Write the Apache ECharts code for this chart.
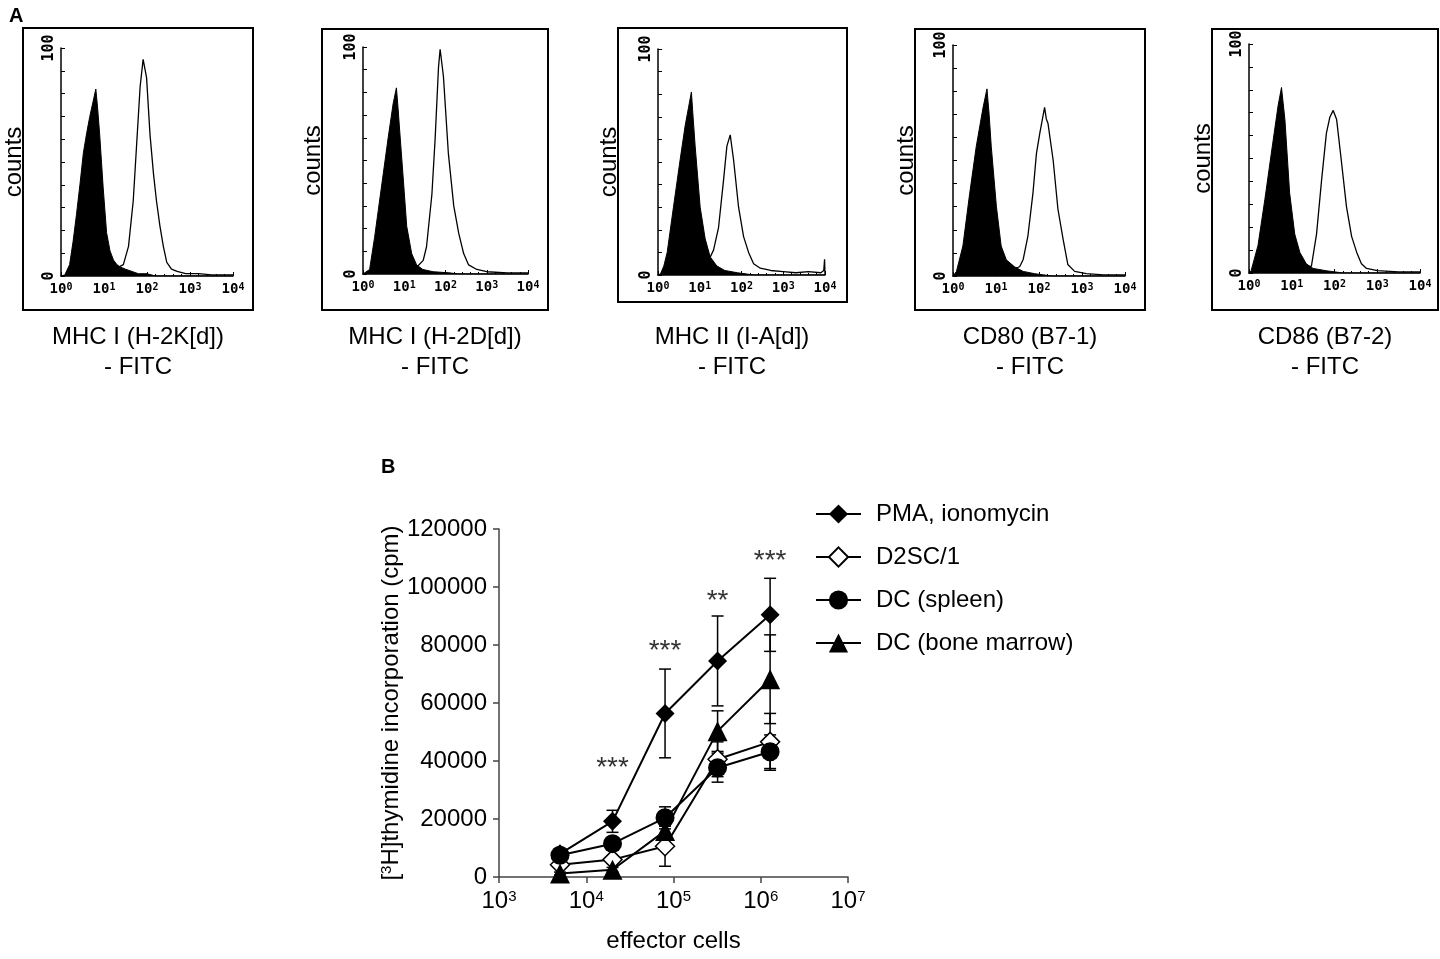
<!DOCTYPE html>
<html>
<head>
<meta charset="utf-8">
<script src="https://cdn.jsdelivr.net/npm/echarts@6/dist/echarts.min.js"></script>
<style>
  html, body { margin: 0; background: #fff; }
  #main { width: 1440px; height: 959px; }
</style>
</head>
<body>
<div id="main"></div>
<script>
// ---- panel A: flow cytometry histograms, x in log10 decades (0..4), y counts (0..100)
var stainNames = ['MHC I (H-2K[d])', 'MHC I (H-2D[d])', 'MHC II (I-A[d])', 'CD80 (B7-1)', 'CD86 (B7-2)'];
var decadeTicks = [0, 1, 2, 3, 4];

// filled = control, open = stained
var h1Filled = [[0,0],[0.09,0.5],[0.2,5],[0.28,15],[0.36,27],[0.44,40],[0.52,54],[0.6,63],[0.67,70],[0.74,76],[0.81,82],[0.85,74],[0.9,62],[0.98,39],[1.06,19],[1.14,11],[1.22,7],[1.3,5],[1.37,4],[1.5,3],[1.65,2],[1.8,1],[2.0,1],[2.2,0],[4,0]];
var h1Open = [[0.95,0],[1.0,2],[1.2,3],[1.35,4],[1.45,5],[1.57,13],[1.68,33],[1.76,58],[1.84,83],[1.91,95],[1.99,87],[2.07,62],[2.15,45],[2.22,33],[2.3,22],[2.38,13],[2.46,6],[2.57,3],[2.7,2],[2.9,1],[3.2,1],[3.5,0.5],[4,0.5]];
var h2Filled = [[0,0],[0.04,0.5],[0.16,2],[0.28,16],[0.37,28],[0.49,44],[0.61,60],[0.73,75],[0.81,82],[0.85,73],[0.89,63],[0.98,41],[1.06,21],[1.18,9],[1.3,4],[1.45,2],[1.7,1],[2.1,0.5],[2.3,0],[4,0]];
var h2Open = [[0.95,0],[1.1,2],[1.3,3],[1.46,6],[1.54,12],[1.67,35],[1.75,60],[1.83,91],[1.87,99],[1.95,87],[2.07,53],[2.2,30],[2.32,18],[2.44,9],[2.56,4],[2.76,2],[3.0,1],[3.5,0.5],[4,0.5]];
var h3Filled = [[0,0],[0.06,0.5],[0.14,4],[0.22,10],[0.37,30],[0.53,51],[0.65,66],[0.73,74],[0.8,81],[0.84,70],[0.89,57],[1.01,30],[1.13,16],[1.25,8],[1.41,4],[1.6,2],[1.9,1],[2.3,0],[4,0]];
var h3Open = [[0.95,0],[1.1,3],[1.2,6],[1.33,11],[1.45,21],[1.57,42],[1.65,57],[1.73,62],[1.81,51],[1.93,30],[2.05,17],[2.17,10],[2.29,5],[2.45,3],[2.7,2],[3.0,1.5],[3.3,1],[3.6,1.5],[3.9,1],[3.97,2],[3.99,7],[4,0]];
var h4Filled = [[0,0],[0.08,2],[0.23,13],[0.39,36],[0.54,56],[0.7,73],[0.79,81],[0.84,70],[0.89,56],[1.01,30],[1.12,13],[1.24,7],[1.43,4],[1.63,2],[1.9,1],[2.3,0],[4,0]];
var h4Open = [[1.0,0],[1.2,2],[1.4,3],[1.55,4],[1.63,7],[1.74,17],[1.86,36],[1.94,53],[2.02,62],[2.09,69],[2.13,73],[2.17,68],[2.21,66],[2.33,50],[2.44,29],[2.56,16],[2.67,5],[2.83,2],[3.1,1],[3.5,0.5],[4,0.5]];
var h5Filled = [[0,0],[0.05,1],[0.21,12],[0.37,32],[0.52,52],[0.68,73],[0.76,81],[0.84,67],[0.95,35],[1.07,17],[1.19,9],[1.34,4],[1.5,2],[1.8,1],[2.2,0],[4,0]];
var h5Open = [[1.0,0],[1.2,2],[1.46,3],[1.58,17],[1.7,41],[1.81,61],[1.89,68],[1.97,71],[2.05,67],[2.16,49],[2.28,29],[2.4,16],[2.52,9],[2.63,4],[2.75,2],[3.0,1],[3.5,0.5],[4,0.5]];

var filledList = [h1Filled, h2Filled, h3Filled, h4Filled, h5Filled];
var openList = [h1Open, h2Open, h3Open, h4Open, h5Open];

// ---- panel B: proliferation vs effector cells
var effectorCells = [5000, 20000, 80000, 320000, 1280000];
var groupNames = ['PMA, ionomycin', 'D2SC/1', 'DC (spleen)', 'DC (bone marrow)'];
var pmaMean = [8000, 19200, 56400, 74500, 90400];
var pmaErr  = [1800, 3800, 15300, 15500, 12600];
var d2scMean = [4200, 6000, 10600, 40600, 46600];
var d2scErr  = [1000, 1000, 6900, 6000, 9800];
var spleenMean = [7500, 11500, 20400, 37700, 43200];
var spleenErr  = [1500, 2000, 3800, 5000, 5800];
var marrowMean = [1200, 2500, 15900, 50300, 68200];
var marrowErr  = [500, 800, 2000, 7000, 15300];
var yTicksB = [0, 20000, 40000, 60000, 80000, 100000, 120000];
// significance marks, shown over the PMA points
var starCells = [20000, 80000, 320000, 1280000];
var starLevel = [37500, 78000, 95000, 109000];
var starText = ['***', '***', '**', '***'];

// layout of the five histogram boxes (plot area + outer frame + caption centre)
var histLayout = [
  { left: 61,   top: 48, w: 172, h: 228, bx: 23,   by: 28, bw: 230, bh: 282, cx: 138 },
  { left: 363,  top: 47, w: 165, h: 227, bx: 322,  by: 29, bw: 226, bh: 281, cx: 435 },
  { left: 658,  top: 49, w: 167, h: 226, bx: 618,  by: 28, bw: 229, bh: 274, cx: 732 },
  { left: 953,  top: 45, w: 172, h: 231, bx: 915,  by: 29, bw: 230, bh: 281, cx: 1030 },
  { left: 1249, top: 44, w: 171, h: 229, bx: 1212, by: 29, bw: 226, bh: 281, cx: 1325 }
];

var FONT = 'Liberation Sans, Arial, sans-serif';
var MONO = 'DejaVu Sans Mono, monospace';

var chart = echarts.init(document.getElementById('main'));

var grids = [], xAxes = [], yAxes = [], series = [], graphics = [];

histLayout.forEach(function (g, i) {
  grids.push({ left: g.left, top: g.top, width: g.w, height: g.h });
  xAxes.push({
    gridIndex: i, type: 'value', min: 0, max: 4, interval: 1,
    axisLine: { onZero: false, lineStyle: { color: '#000', width: 1.5 } },
    axisTick: { inside: true, length: 4, lineStyle: { color: '#000' } },
    minorTick: { show: true, splitNumber: 5, length: 2, lineStyle: { color: '#000' } },
    splitLine: { show: false },
    axisLabel: {
      formatter: function (v) { return '10{s|' + v + '}'; },
      fontFamily: MONO, fontSize: 14, fontWeight: 'bold', color: '#000', margin: 6,
      rich: { s: { fontFamily: MONO, fontSize: 10, fontWeight: 'bold', verticalAlign: 'top', color: '#000' } }
    }
  });
  yAxes.push({
    gridIndex: i, type: 'value', min: 0, max: 100, interval: 10,
    axisLine: { show: true, onZero: false, lineStyle: { color: '#000', width: 1.5 } },
    axisTick: { show: true, inside: true, length: 4, lineStyle: { color: '#000' } },
    splitLine: { show: false },
    axisLabel: {
      rotate: 90, margin: 4, fontFamily: MONO, fontSize: 15, fontWeight: 'bold', color: '#000',
      formatter: function (v) { return (v === 0 || v === 100) ? String(v) : ''; }
    }
  });
  series.push({
    type: 'line', xAxisIndex: i, yAxisIndex: i, data: openList[i],
    showSymbol: false, symbol: 'none', silent: true,
    lineStyle: { color: '#000', width: 1.3 }
  });
  series.push({
    type: 'line', xAxisIndex: i, yAxisIndex: i, data: filledList[i],
    showSymbol: false, symbol: 'none', silent: true,
    lineStyle: { color: '#000', width: 1 },
    areaStyle: { color: '#000', opacity: 1 }
  });
  graphics.push({
    type: 'rect', shape: { x: g.bx, y: g.by, width: g.bw, height: g.bh },
    style: { fill: 'none', stroke: '#000', lineWidth: 2 }
  });
  graphics.push({
    type: 'text', x: g.bx - 9, y: g.top + g.h / 2, rotation: Math.PI / 2,
    style: { text: 'counts', font: '24px ' + FONT, fill: '#000', textAlign: 'center', textVerticalAlign: 'middle' }
  });
  graphics.push({
    type: 'text', x: g.cx, y: 337,
    style: { text: stainNames[i], font: '24px ' + FONT, fill: '#000', textAlign: 'center', textVerticalAlign: 'middle' }
  });
  graphics.push({
    type: 'text', x: g.cx, y: 367,
    style: { text: '- FITC', font: '24px ' + FONT, fill: '#000', textAlign: 'center', textVerticalAlign: 'middle' }
  });
});

graphics.push({ type: 'text', x: 9, y: 6, style: { text: 'A', font: 'bold 20px ' + FONT, fill: '#000' } });
graphics.push({ type: 'text', x: 381, y: 457, style: { text: 'B', font: 'bold 20px ' + FONT, fill: '#000' } });

// panel B axes
var bi = histLayout.length;
grids.push({ left: 499, top: 529, width: 349, height: 348 });
xAxes.push({
  gridIndex: bi, type: 'log', logBase: 10, min: 1000, max: 10000000,
  axisLine: { lineStyle: { color: '#444', width: 1.5 } },
  axisTick: { length: 6, lineStyle: { color: '#444', width: 1.5 } },
  minorTick: { show: false },
  splitLine: { show: false },
  axisLabel: {
    formatter: function (v) { return '10{sup|' + Math.round(Math.log10(v)) + '}'; },
    fontFamily: FONT, fontSize: 24, color: '#000', margin: 12,
    rich: { sup: { fontFamily: FONT, fontSize: 15, verticalAlign: 'top', color: '#000' } }
  },
  name: 'effector cells', nameLocation: 'middle', nameGap: 52,
  nameTextStyle: { fontFamily: FONT, fontSize: 24, color: '#000' }
});
yAxes.push({
  gridIndex: bi, type: 'value', min: yTicksB[0], max: yTicksB[yTicksB.length - 1], interval: 20000,
  axisLine: { show: true, lineStyle: { color: '#444', width: 1.5 } },
  axisTick: { show: true, length: 6, lineStyle: { color: '#444', width: 1.5 } },
  splitLine: { show: false },
  axisLabel: {
    fontFamily: FONT, fontSize: 24, color: '#000', margin: 12,
    formatter: function (v) { return String(v); }
  },
  name: '[{sup|3}H]thymidine incorporation (cpm)', nameLocation: 'middle', nameRotate: 90, nameGap: 89,
  nameTextStyle: {
    fontFamily: FONT, fontSize: 24, color: '#000',
    rich: { sup: { fontFamily: FONT, fontSize: 15, verticalAlign: 'top', color: '#000' } }
  }
});

var means = [pmaMean, d2scMean, spleenMean, marrowMean];
var errs = [pmaErr, d2scErr, spleenErr, marrowErr];
var symbols = ['diamond', 'diamond', 'circle', 'triangle'];
var fills = ['#000', '#fff', '#000', '#000'];
var sizes = [19, 19, 19, 20];

// error bars
var errRows = [];
means.forEach(function (m, g) {
  m.forEach(function (v, k) {
    errRows.push([effectorCells[k], v - errs[g][k], v + errs[g][k]]);
  });
});
series.push({
  type: 'custom', name: 'err', xAxisIndex: bi, yAxisIndex: bi, data: errRows, silent: true, z: 2,
  encode: { x: 0, y: [1, 2] },
  renderItem: function (params, api) {
    var lo = api.coord([api.value(0), api.value(1)]);
    var hi = api.coord([api.value(0), api.value(2)]);
    var cap = 6;
    var st = { stroke: '#000', lineWidth: 1.5 };
    return {
      type: 'group', children: [
        { type: 'line', shape: { x1: lo[0], y1: lo[1], x2: hi[0], y2: hi[1] }, style: st },
        { type: 'line', shape: { x1: lo[0] - cap, y1: lo[1], x2: lo[0] + cap, y2: lo[1] }, style: st },
        { type: 'line', shape: { x1: hi[0] - cap, y1: hi[1], x2: hi[0] + cap, y2: hi[1] }, style: st }
      ]
    };
  }
});

groupNames.forEach(function (name, g) {
  series.push({
    type: 'line', name: name, xAxisIndex: bi, yAxisIndex: bi, z: 3,
    data: effectorCells.map(function (x, k) { return [x, means[g][k]]; }),
    symbol: symbols[g], symbolSize: sizes[g], showSymbol: true,
    lineStyle: { color: '#000', width: 2 },
    itemStyle: { color: fills[g], borderColor: '#000', borderWidth: g === 1 ? 1.5 : 0 }
  });
});

series.push({
  type: 'scatter', name: 'stars', xAxisIndex: bi, yAxisIndex: bi, silent: true,
  symbolSize: 1, itemStyle: { color: 'rgba(0,0,0,0)' },
  data: starCells.map(function (x, k) { return [x, starLevel[k]]; }),
  label: {
    show: true, position: 'inside', fontFamily: FONT, fontSize: 28, color: '#000',
    textBorderWidth: 0,
    formatter: function (p) { return starText[p.dataIndex]; }
  }
});

chart.setOption({
  animation: false,
  backgroundColor: '#fff',
  textStyle: { fontFamily: FONT },
  grid: grids,
  xAxis: xAxes,
  yAxis: yAxes,
  legend: {
    data: groupNames, orient: 'vertical', left: 810, top: 497,
    itemWidth: 45, itemHeight: 24, itemGap: 19,
    textStyle: { fontFamily: FONT, fontSize: 24, color: '#000', padding: [0, 0, 0, 10] }
  },
  graphic: graphics,
  series: series
});
</script>
</body>
</html>
